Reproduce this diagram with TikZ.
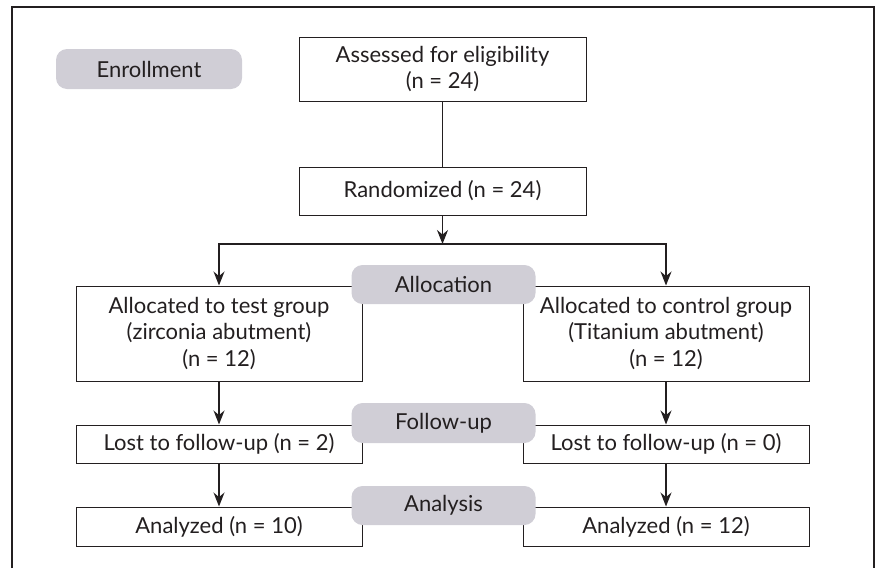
\documentclass[tikz,border=0pt]{standalone}
\usepackage{fontspec}
\setmainfont{Lato}
\usetikzlibrary{arrows.meta}
\definecolor{pillgray}{RGB}{208,206,214}
\definecolor{ink}{RGB}{35,31,32}
\begin{document}
\begin{tikzpicture}[x=1pt,y=-1pt,
  font=\fontsize{22}{26.5}\selectfont, text=ink,
  box/.style={draw=ink, line width=1pt, fill=white, inner sep=0pt, align=center, minimum width=286pt},
  pill/.style={fill=pillgray, rounded corners=11pt, inner sep=0pt, minimum width=184pt, minimum height=40pt},
  arr/.style={draw=ink, line width=1.4pt, -{Stealth[length=14pt,width=11pt]}},
  ln/.style={draw=ink, line width=1.4pt}]
\useasboundingbox (0,0) rectangle (877,568);
\draw[ink, line width=2pt] (12,568) -- (12,7) -- (874,7) -- (874,568);

\node[box, minimum width=287pt, minimum height=64pt] (assess) at (442.5,69) {Assessed for eligibility\\(n = 24)};
\node[box, minimum width=287pt, minimum height=48pt] (rand) at (442.5,191) {Randomized (n = 24)};
\node[box, minimum height=95pt] (allocL) at (219,333.5) {Allocated to test group\\(zirconia abutment)\\(n = 12)};
\node[box, minimum height=95pt] (allocR) at (666,333.5) {Allocated to control group\\(Titanium abutment)\\(n = 12)};
\node[box, minimum height=38pt] (lostL) at (219,444) {Lost to follow-up (n = 2)};
\node[box, minimum height=38pt] (lostR) at (666,444) {Lost to follow-up (n = 0)};
\node[box, minimum height=39pt] (analL) at (219,526.5) {Analyzed (n = 10)};
\node[box, minimum height=39pt] (analR) at (666,526.5) {Analyzed (n = 12)};

\node[pill, minimum width=186pt] (enroll) at (149,69) {Enrollment};
\node[pill, minimum height=39pt] (pAlloc) at (443.5,284.5) {Allocation};
\node[pill] (pFollow) at (443.5,423) {Follow-up};
\node[pill, minimum height=39pt] (pAnal) at (443.5,505.5) {Analysis};

\coordinate (split) at (442.5,244);
\draw[ln] (assess) -- (rand);
\draw[arr] (rand) -- (split);
\draw[arr] (split) -| (allocL.north);
\draw[arr] (split) -| (allocR.north);
\draw[arr] (allocL) -- (lostL);
\draw[arr] (allocR) -- (lostR);
\draw[arr] (lostL) -- (analL);
\draw[arr] (lostR) -- (analR);
\end{tikzpicture}
\end{document}
